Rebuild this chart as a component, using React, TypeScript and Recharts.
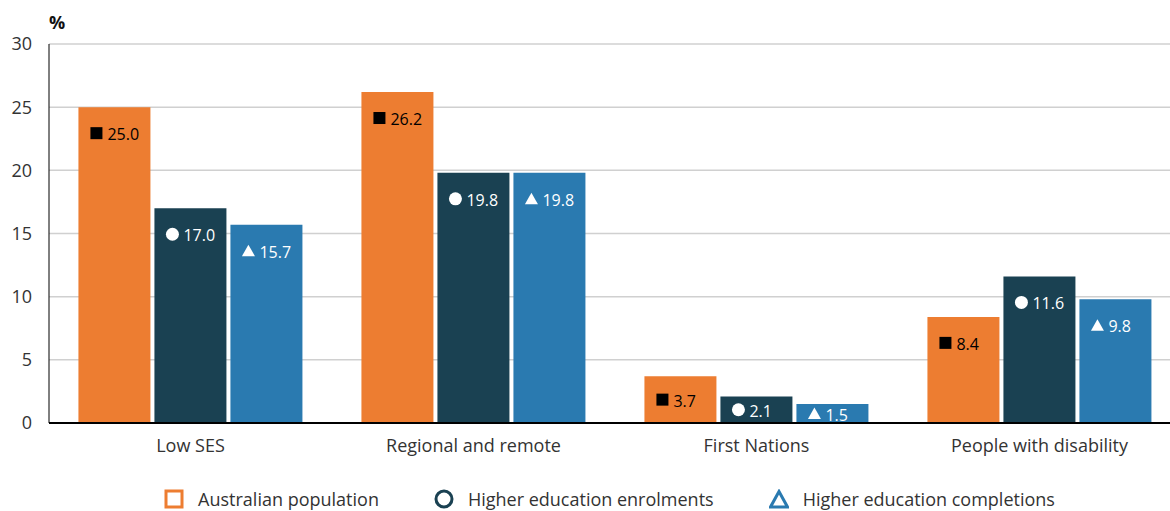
import React from 'react';
import {
  BarChart,
  Bar,
  XAxis,
  YAxis,
  CartesianGrid,
  Legend,
  LabelList,
} from 'recharts';

const categories = ['Low SES', 'Regional and remote', 'First Nations', 'People with disability'];
const population = [25.0, 26.2, 3.7, 8.4];
const enrolments = [17.0, 19.8, 2.1, 11.6];
const completions = [15.7, 19.8, 1.5, 9.8];
const yTicks = [0, 5, 10, 15, 20, 25, 30];

const SERIES = [
  { key: 'population', name: 'Australian population', color: '#ED7D31', ink: '#000000', marker: 'square' },
  { key: 'enrolments', name: 'Higher education enrolments', color: '#1A4152', ink: '#FFFFFF', marker: 'circle' },
  { key: 'completions', name: 'Higher education completions', color: '#2A7AB0', ink: '#FFFFFF', marker: 'triangle' },
];

const FONT = '"Open Sans", "Noto Sans", sans-serif';

const data = categories.map((name, i) => ({
  name,
  population: population[i],
  enrolments: enrolments[i],
  completions: completions[i],
}));

function makeLabel(marker: string, ink: string) {
  return (props: any) => {
    const { x, y, width, height, value } = props;
    const cx = x + width / 2;
    const cy = y + Math.min(26, height / 2);
    const mx = cx - 18;
    let shape;
    if (marker === 'square') {
      shape = <rect x={mx - 6} y={cy - 6} width={12} height={12} fill={ink} />;
    } else if (marker === 'circle') {
      shape = <circle cx={mx} cy={cy} r={6.5} fill={ink} />;
    } else {
      shape = <polygon points={`${mx - 6.5},${cy + 5.5} ${mx + 6.5},${cy + 5.5} ${mx},${cy - 6}`} fill={ink} />;
    }
    return (
      <g>
        {shape}
        <text
          x={cx - 7}
          y={cy + 1}
          fill={ink}
          fontSize={16}
          fontFamily={FONT}
          dominantBaseline="central"
          textAnchor="start"
        >
          {Number(value).toFixed(1)}
        </text>
      </g>
    );
  };
}

function LegendIcon({ marker, color }: { marker: string; color: string }) {
  return (
    <svg width={20} height={20} style={{ display: 'block' }}>
      {marker === 'square' && <rect x={2} y={2} width={16} height={16} fill="none" stroke={color} strokeWidth={3} />}
      {marker === 'circle' && <circle cx={10} cy={10} r={8} fill="none" stroke={color} strokeWidth={3} />}
      {marker === 'triangle' && <polygon points="10,2.5 18.5,18 1.5,18" fill="none" stroke={color} strokeWidth={3} />}
    </svg>
  );
}

function renderLegend() {
  return (
    <div
      style={{
        height: 32,
        paddingLeft: 49,
        paddingRight: 11,
        paddingTop: 8,
        boxSizing: 'border-box',
        display: 'flex',
        justifyContent: 'center',
        alignItems: 'center',
        fontFamily: FONT,
        fontSize: 18,
        color: '#333',
      }}
    >
      {SERIES.map((s, i) => (
        <div key={s.key} style={{ display: 'flex', alignItems: 'center', marginLeft: i === 0 ? 0 : 55 }}>
          <LegendIcon marker={s.marker} color={s.color} />
          <span style={{ marginLeft: 14 }}>{s.name}</span>
        </div>
      ))}
    </div>
  );
}

export default function App() {
  return (
    <div style={{ position: 'relative', width: 1170, height: 511, overflow: 'hidden', fontFamily: FONT }}>
      <style>{'body { margin: 0; }'}</style>
      <div
        style={{
          position: 'absolute',
          left: 49,
          top: 10,
          fontSize: 18,
          fontWeight: 700,
          color: '#111',
        }}
      >
        %
      </div>
      {/* plot runs a little past the right edge, like the original */}
      <BarChart
        width={1181}
        height={511}
        data={data}
        margin={{ top: 44, right: 0, left: 0, bottom: 0 }}
        barCategoryGap="10.4%"
        barGap={4}
      >
        <CartesianGrid vertical={false} stroke="#d0d0d0" strokeWidth={1.5} />
        <XAxis
          dataKey="name"
          tickLine={false}
          axisLine={{ stroke: '#000', strokeWidth: 2 }}
          tick={{ fill: '#333', fontSize: 18, fontFamily: FONT }}
          tickMargin={10}
          height={56}
        />
        <YAxis
          domain={[0, 30]}
          ticks={yTicks}
          tickLine={false}
          axisLine={{ stroke: '#000', strokeWidth: 1 }}
          tick={{ fill: '#333', fontSize: 18, fontFamily: FONT }}
          tickMargin={11}
          width={49}
        />
        <Legend verticalAlign="bottom" content={renderLegend} />
        {SERIES.map(s => (
          <Bar key={s.key} dataKey={s.key} name={s.name} fill={s.color} isAnimationActive={false}>
            <LabelList dataKey={s.key} content={makeLabel(s.marker, s.ink)} />
          </Bar>
        ))}
      </BarChart>
    </div>
  );
}
